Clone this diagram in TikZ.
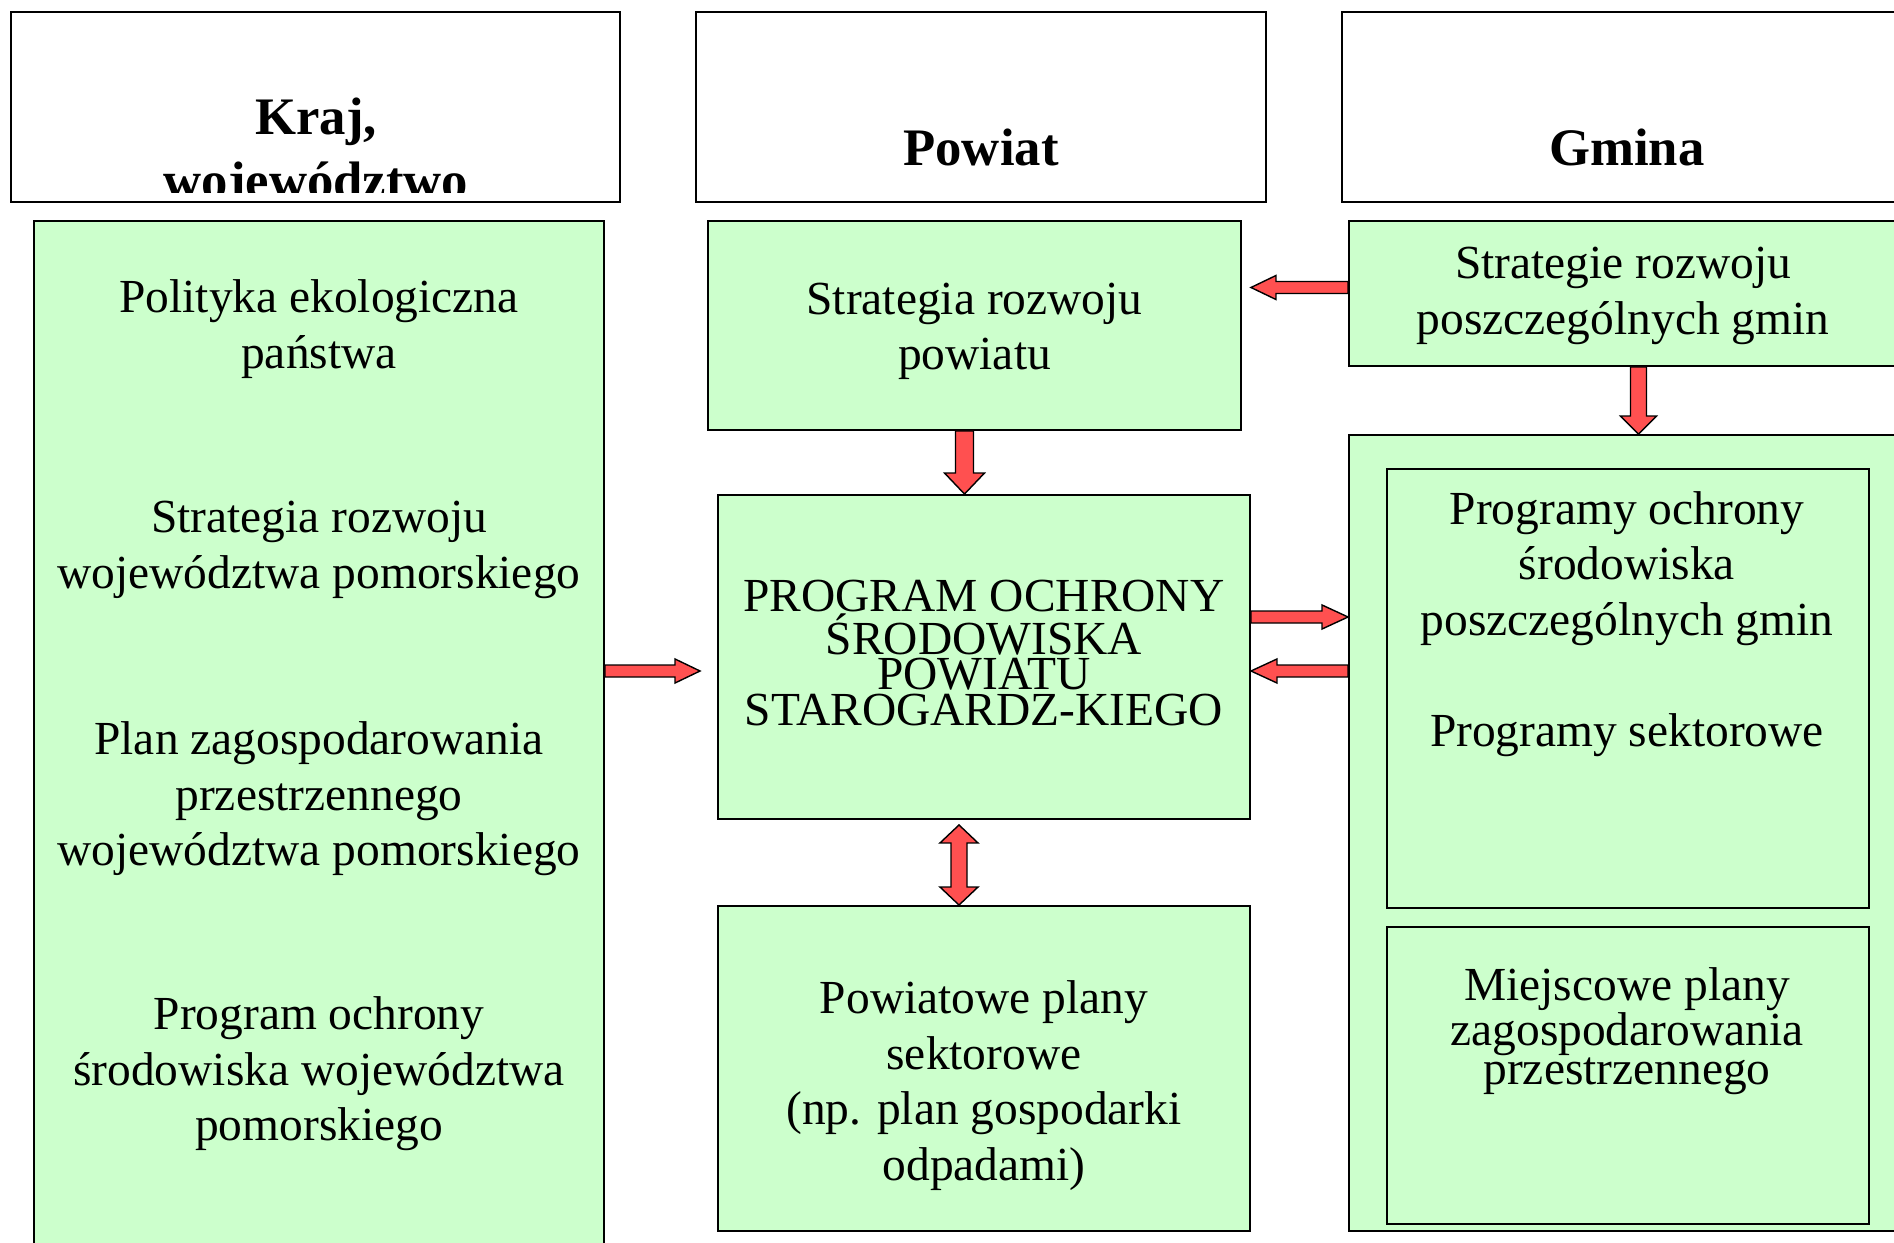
\documentclass[tikz,border=0pt]{standalone}
\usepackage{fontspec}
\setmainfont{Liberation Serif}
\usetikzlibrary{calc,fit}

\definecolor{ziel}{HTML}{CCFFCC}
\definecolor{czerw}{HTML}{FF5050}

\tikzset{
  pole/.style={draw=black, fill=ziel, line width=1.1pt, inner sep=0pt},
  naglowek/.style={draw=black, fill=white, line width=1.1pt, inner sep=0pt},
  tekst/.style={align=center, inner sep=0pt, font=\fontsize{27}{31.6}\selectfont},
  ciasny/.style={align=center, inner sep=0pt, font=\fontsize{27}{20.2}\selectfont},
  tytul/.style={inner sep=0pt, font=\fontsize{30}{36}\selectfont\bfseries},
  strz/.style={draw=black, fill=czerw, line width=0.8pt, line join=miter},
}

% strzalka blokowa: poczatek, koniec, pol grubosci, pol szerokosci grotu, dlugosc grotu (px)
\newcommand{\strzalka}[5]{%
  \coordinate (s0) at (#1);
  \coordinate (s1) at (#2);
  \coordinate (sh) at ($(s1)!#5*0.02cm!(s0)$);
  \filldraw[strz] ($(s0)!#3*0.02cm!90:(s1)$) -- ($(sh)!#3*0.02cm!90:(s1)$)
    -- ($(sh)!#4*0.02cm!90:(s1)$) -- (s1) -- ($(sh)!#4*0.02cm!-90:(s1)$)
    -- ($(sh)!#3*0.02cm!-90:(s1)$) -- ($(s0)!#3*0.02cm!-90:(s1)$) -- cycle;
}
% strzalka podwojna
\newcommand{\strzalkad}[5]{%
  \coordinate (s0) at (#1);
  \coordinate (s1) at (#2);
  \coordinate (sg) at ($(s0)!#5*0.02cm!(s1)$);
  \coordinate (sh) at ($(s1)!#5*0.02cm!(s0)$);
  \filldraw[strz] (s0) -- ($(sg)!#4*0.02cm!90:(s1)$) -- ($(sg)!#3*0.02cm!90:(s1)$)
    -- ($(sh)!#3*0.02cm!90:(s1)$) -- ($(sh)!#4*0.02cm!90:(s1)$) -- (s1)
    -- ($(sh)!#4*0.02cm!-90:(s1)$) -- ($(sh)!#3*0.02cm!-90:(s1)$)
    -- ($(sg)!#3*0.02cm!-90:(s1)$) -- ($(sg)!#4*0.02cm!-90:(s1)$) -- cycle;
}

\begin{document}
\begin{tikzpicture}[x=0.02cm, y=-0.02cm]
\useasboundingbox (0,0) rectangle (1894,1243);
\clip (0,0) rectangle (1894,1243);

% naglowki
\node[naglowek, fit={(11,12) (620,202)}] (kraj) {};
\node[naglowek, fit={(696,12) (1266,202)}] (powiat) {};
\node[naglowek, fit={(1342,12) (1920,202)}] (gmina) {};
\node[tytul, anchor=base] (krajt) at (316,135) {Kraj,};
\begin{scope}
  \clip (11,12) rectangle (620,193);
  \node[tytul, anchor=base] (wojt) at (316,199) {województwo};
\end{scope}
\node[tytul, anchor=base] (powiatt) at (981,166) {Powiat};
\node[tytul, anchor=base] (gminat) at (1627,166) {Gmina};

% kraj, wojewodztwo
\node[pole, fit={(34,221) (604,1260)}] (wojbox) {};
\node[tekst] (polityka) at (319,329) {Polityka ekologiczna\\państwa};
\node[tekst] (strwoj) at (319,550) {Strategia rozwoju\\województwa pomorskiego};
\node[tekst] (planwoj) at (319,799) {Plan zagospodarowania\\przestrzennego\\województwa pomorskiego};
\node[tekst] (progwoj) at (319,1074) {Program ochrony\\środowiska województwa\\pomorskiego};

% powiat
\node[pole, fit={(708,221) (1241,430)}] (strpow) {};
\node[tekst] at ($(strpow.center)+(0,6)$) {Strategia rozwoju\\powiatu};
\node[pole, fit={(718,495) (1250,819)}] (progpow) {};
\node[ciasny] at ($(progpow.center)+(0,-4)$) {PROGRAM OCHRONY\\ŚRODOWISKA\\POWIATU\\STAROGARDZ-KIEGO};
\node[pole, fit={(718,906) (1250,1231)}] (planpow) {};
\node[tekst] at ($(planpow.center)+(0,17)$) {Powiatowe plany\\sektorowe\\(np. plan gospodarki\\odpadami)};

% gmina
\node[pole, fit={(1349,221) (1900,366)}] (strgmin) {};
\node[tekst] at (1623,296) {Strategie rozwoju\\poszczególnych gmin};
\node[pole, fit={(1349,435) (1920,1231)}] (gminbox) {};
\node[pole, fit={(1387,469) (1869,908)}] (progmin) {};
\node[tekst] at (1627,624) {Programy ochrony\\środowiska\\poszczególnych gmin\\[31.6pt]Programy sektorowe};
\node[pole, fit={(1387,927) (1869,1224)}] (miejsc) {};
\node[ciasny] at (1627,1031) {Miejscowe plany\\zagospodarowania\\przestrzennego};

% strzalki
\coordinate (a1) at ($(strgmin.west)+(0,-6)$);
\coordinate (a2) at ($(strpow.south)+(-10,0)$);
\coordinate (a3) at ($(strgmin.south)+(14,0)$);
\coordinate (a4) at (wojbox.east |- 0,671);
\coordinate (a5) at (progpow.east |- 0,617);
\coordinate (a6) at (gminbox.west |- 0,671);
\coordinate (a7) at ($(progpow.south)+(-25,5)$);
\strzalka{a1}{$(strpow.east |- a1)+(9,0)$}{6}{12}{25}
\strzalka{a2}{a2 |- progpow.north}{9}{20}{21}
\strzalka{a3}{a3 |- gminbox.north}{8}{18}{18}
\strzalka{a4}{$(progpow.west |- a4)+(-17,0)$}{6}{12}{25}
\strzalka{a5}{gminbox.west |- a5}{6}{12}{26}
\strzalka{a6}{progpow.east |- a6}{6}{12}{26}
\strzalkad{a7}{a7 |- planpow.north}{8}{19}{18}
\end{tikzpicture}
\end{document}
